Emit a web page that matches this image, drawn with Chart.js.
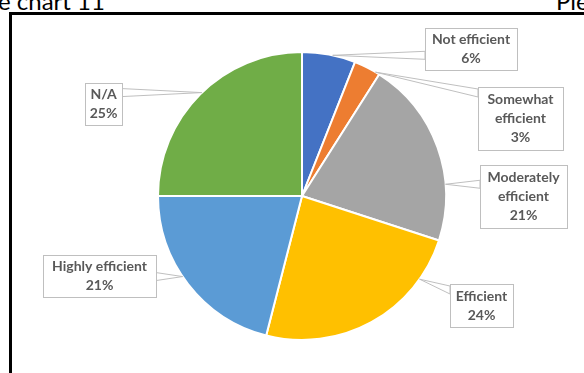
<!DOCTYPE html>
<html>
<head>
<meta charset="utf-8">
<script src="https://cdn.jsdelivr.net/npm/chart.js@4"></script>
<style>
  html, body { margin: 0; padding: 0; background: #fff; }
  body { width: 584px; height: 373px; position: relative; overflow: hidden; font-family: "Liberation Sans", Arial, sans-serif; }
  .head { position: absolute; top: -14px; font-size: 24px; color: #000; white-space: nowrap; font-family: "Lato", "Liberation Sans", sans-serif; }
  .frame { position: absolute; left: 9px; top: 12px; width: 620px; height: 400px; border-top: 3px solid #000; border-left: 3px solid #000; }
  #wrap { position: absolute; left: 0; top: 0; width: 584px; height: 373px; }
</style>
</head>
<body>
<div class="head" style="left:-2px">e chart 11</div>
<div class="head" style="left:556px">Pie</div>
<div class="frame"></div>
<div id="wrap"><canvas id="pieChart"></canvas></div>
<script>
// Efficiency ratings
const categories = ["Not efficient", "Somewhat efficient", "Moderately efficient", "Efficient", "Highly efficient", "N/A"];
const shares = [6, 3, 21, 24, 21, 25];
const colors = ["#4472C4", "#ED7D31", "#A5A5A5", "#FFC000", "#5B9BD5", "#70AD47"];

// Callout boxes: where each one sits and where its pointer meets the slice (fraction of the slice angle)
const callouts = [
  { x: 425, y: 28, w: 92, h: 42, split: false, tip: 0.57 },
  { x: 478, y: 87, w: 85, h: 63, split: true, tip: 0.84 },
  { x: 480, y: 165, w: 87, h: 63, split: true, tip: 0.70 },
  { x: 450, y: 284, w: 63, h: 43, split: false, tip: 0.20 },
  { x: 43, y: 255, w: 113, h: 42, split: false, tip: 0.55 },
  { x: 85, y: 83, w: 37, h: 42, split: false, tip: 0.51 },
];

const calloutPlugin = {
  id: "callouts",
  afterDatasetsDraw(chart) {
    const ctx = chart.ctx;
    const arcs = chart.getDatasetMeta(0).data;
    ctx.save();
    arcs.forEach((arc, i) => {
      const c = callouts[i];
      const p = arc.getProps(["x", "y", "startAngle", "endAngle", "outerRadius"], true);
      const a = p.startAngle + c.tip * (p.endAngle - p.startAngle);
      const tx = p.x + Math.cos(a) * p.outerRadius;
      const ty = p.y + Math.sin(a) * p.outerRadius;

      // pointer wedge from the facing side of the box
      const bx = tx < c.x ? c.x : c.x + c.w;
      const by = Math.min(Math.max(ty, c.y + 6), c.y + c.h - 6);
      ctx.beginPath();
      ctx.moveTo(bx, by - 4);
      ctx.lineTo(tx, ty);
      ctx.lineTo(bx, by + 4);
      ctx.closePath();
      ctx.fillStyle = "#fff";
      ctx.fill();
      ctx.strokeStyle = "#BFBFBF";
      ctx.lineWidth = 1;
      ctx.stroke();

      ctx.fillStyle = "#fff";
      ctx.fillRect(c.x, c.y, c.w, c.h);
      ctx.strokeRect(c.x + 0.5, c.y + 0.5, c.w, c.h);

      const lines = (c.split ? categories[i].split(" ") : [categories[i]]).concat(shares[i] + "%");
      ctx.fillStyle = "#595959";
      ctx.font = "bold 14px Lato, 'Liberation Sans', sans-serif";
      ctx.textAlign = "center";
      ctx.textBaseline = "middle";
      const cy = c.y + c.h / 2;
      lines.forEach((t, k) => {
        ctx.fillText(t, c.x + c.w / 2, cy + (k - (lines.length - 1) / 2) * 19);
      });
    });
    ctx.restore();
  },
};

new Chart(document.getElementById("pieChart"), {
  type: "pie",
  data: {
    labels: categories,
    datasets: [
      {
        data: shares,
        backgroundColor: colors,
        borderColor: "#fff",
        borderWidth: 2,
      },
    ],
  },
  options: {
    responsive: true,
    maintainAspectRatio: false,
    animation: false,
    layout: { padding: { top: 51, bottom: 32, left: 20, right: 0 } },
    plugins: {
      legend: { display: false },
      tooltip: { enabled: false },
    },
  },
  plugins: [calloutPlugin],
});
</script>
</body>
</html>
